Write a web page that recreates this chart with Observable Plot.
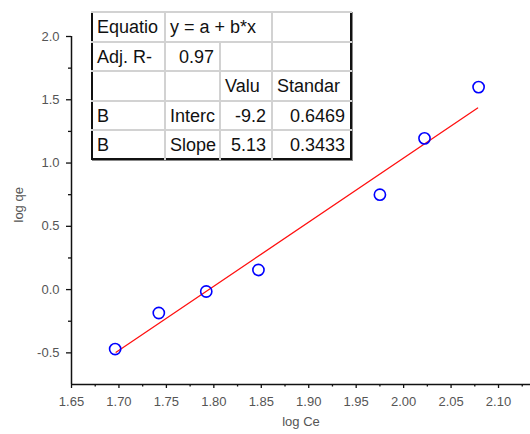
<!DOCTYPE html>
<html><head><meta charset="utf-8">
<script src="https://cdn.jsdelivr.net/npm/d3@7"></script>
<script src="https://cdn.jsdelivr.net/npm/@observablehq/plot@0.6"></script>
<style>
html,body{margin:0;padding:0;background:#fff;}
#wrap{position:relative;width:530px;height:434px;font-family:"Liberation Sans",Arial,sans-serif;}
#tbl{position:absolute;left:91px;top:11px;width:259px;border-collapse:collapse;table-layout:fixed;border:2px solid #111;font-size:18px;color:#111;box-shadow:1px 1px 0 #888;background:#fff;}
#tbl td{border:2px solid #d2d2d2;padding:0 4px;white-space:nowrap;overflow:hidden;line-height:1;}
#tbl tr:first-child td{border-top:none;}
#tbl tr:last-child td{border-bottom:none;}
#tbl td:first-child{border-left:none;}
#tbl td:last-child{border-right:none;}
#tbl td.num{text-align:right;padding-right:5px;}
</style></head>
<body><div id="wrap"></div>
<script>
// data
const logCe = [1.696, 1.742, 1.792, 1.847, 1.975, 2.022, 2.079];
const logQe = [-0.47, -0.185, -0.015, 0.155, 0.75, 1.195, 1.60];
const fitX = [1.697, 2.078];
const fitY = [-0.495, 1.435];
const xTicks = [1.65, 1.70, 1.75, 1.80, 1.85, 1.90, 1.95, 2.00, 2.05, 2.10];
const xMinor = [1.675, 1.725, 1.775, 1.825, 1.875, 1.925, 1.975, 2.025, 2.075, 2.125];
const yTicks = [-0.5, 0.0, 0.5, 1.0, 1.5, 2.0];
const yMinor = [-0.25, 0.25, 0.75, 1.25, 1.75];
const xTitle = "log Ce";
const yTitle = "log qe";
const tableRows = [
  ["Equatio", "y = a + b*x", null, ""],
  ["Adj. R-", "0.97", "", ""],
  ["", "", "Valu", "Standar"],
  ["B", "Interc", "-9.2", "0.6469"],
  ["B", "Slope", "5.13", "0.3433"]
];
const colWidths = [73, 55, 52, 79];
const rowHeights = [30, 29, 30, 29, 29];

const points = logCe.map((x, i) => ({x, y: logQe[i]}));
const fit = fitX.map((x, i) => ({x, y: fitY[i]}));

const axisStyle = {stroke: "#111", fill: "#555", strokeWidth: 1.3, label: null};

const chart = Plot.plot({
  width: 530,
  height: 434,
  marginLeft: 71,
  marginRight: 0,
  marginTop: 36,
  marginBottom: 50,
  style: {fontFamily: "'Liberation Sans', Arial, sans-serif", fontSize: "13px", background: "#fff"},
  x: {domain: [1.65, 2.1337]},
  y: {domain: [-0.75, 2.0]},
  marks: [
    Plot.axisX(xTicks, {...axisStyle, anchor: "bottom", tickSize: 4, tickPadding: 8, tickFormat: d => d.toFixed(2)}),
    Plot.axisX(xMinor, {...axisStyle, anchor: "bottom", tickSize: 2.5, tickFormat: () => ""}),
    Plot.axisY(yTicks, {...axisStyle, anchor: "left", tickSize: 5, tickPadding: 7, tickFormat: d => d.toFixed(1)}),
    Plot.axisY(yMinor, {...axisStyle, anchor: "left", tickSize: 3, tickFormat: () => ""}),
    Plot.ruleX([1.65], {stroke: "#111", strokeWidth: 1.5}),
    Plot.ruleY([-0.75], {stroke: "#111", strokeWidth: 1.5}),
    Plot.line(fit, {x: "x", y: "y", stroke: "#ff1010", strokeWidth: 1.3}),
    Plot.dot(points, {x: "x", y: "y", r: 5.6, stroke: "#0000ff", strokeWidth: 1.6, fill: "none"}),
    Plot.text([xTitle], {text: d => d, frameAnchor: "bottom", dy: 41, fill: "#555", fontSize: 13}),
    Plot.text([yTitle], {text: d => d, frameAnchor: "left", dx: -53, dy: 12, rotate: -90, fill: "#555", fontSize: 13})
  ]
});

const wrap = document.getElementById("wrap");
wrap.appendChild(chart);

const tbl = document.createElement("table");
tbl.id = "tbl";
const cg = document.createElement("colgroup");
colWidths.forEach(w => { const c = document.createElement("col"); c.style.width = w + "px"; cg.appendChild(c); });
tbl.appendChild(cg);
tableRows.forEach((row, ri) => {
  const tr = document.createElement("tr");
  tr.style.height = rowHeights[ri] + "px";
  row.forEach((cell, ci) => {
    if (cell === null) return;
    const td = document.createElement("td");
    td.textContent = cell;
    if (ci === 1 && row[2] === null) td.colSpan = 2;
    if (/^-?[0-9.]+$/.test(cell)) td.className = "num";
    tr.appendChild(td);
  });
  tbl.appendChild(tr);
});
wrap.appendChild(tbl);
</script>
</body></html>
